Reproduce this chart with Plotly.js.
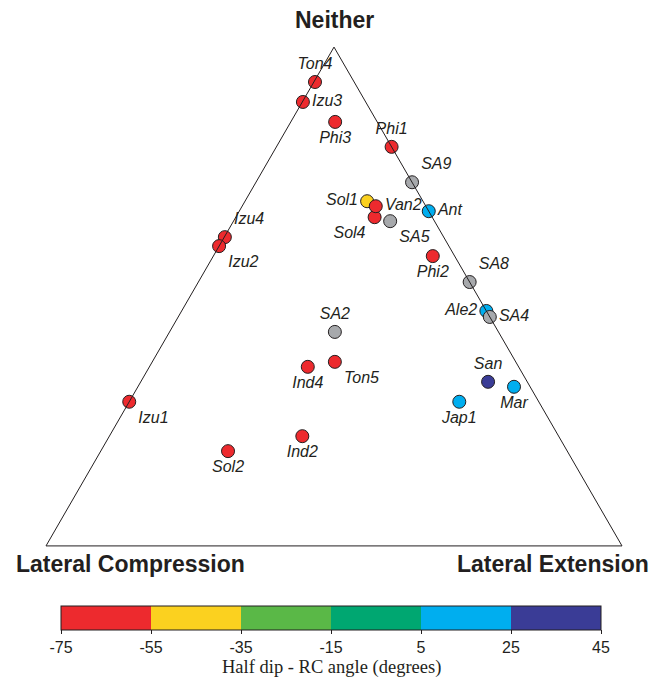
<!DOCTYPE html>
<html>
<head>
<meta charset="utf-8">
<script src="https://cdn.plot.ly/plotly-3.0.1.min.js"></script>
<style>html,body{margin:0;padding:0;background:#fff;}#chart{width:665px;height:679px;}</style>
</head>
<body>
<div id="chart"></div>
<script>
// Sites coloured by half dip - RC angle (degrees)
const colouredSites = ['Ton4','Izu3','Phi3','Phi1','Sol1','Sol4','Van2','Ant','Izu4','Izu2','Phi2','Ale2','Ton5','Ind4','San','Mar','Jap1','Izu1','Ind2','Sol2'];
const colouredNeither     = [0.930,0.890,0.850,0.800,0.691,0.659,0.681,0.671,0.619,0.601,0.581,0.471,0.369,0.359,0.329,0.319,0.289,0.289,0.220,0.190];
const colouredCompression = [0.068,0.109,0.073,0.000,0.097,0.100,0.087,0.000,0.380,0.399,0.038,0.000,0.314,0.366,0.068,0.028,0.138,0.711,0.445,0.589];
const colouredExtension   = [0.002,0.001,0.077,0.200,0.212,0.241,0.232,0.329,0.001,0.000,0.381,0.529,0.317,0.275,0.603,0.653,0.573,0.000,0.335,0.221];
const colouredAngle       = [-65,-65,-65,-65,-45,-65,-65,15,-65,-65,-65,15,-65,-65,35,15,15,-65,-65,-65];

// Sites without an angle (grey)
const greySites = ['SA9','SA5','SA8','SA4','SA2'];
const greyNeither     = [0.729,0.651,0.529,0.459,0.429];
const greyCompression = [0.000,0.077,0.000,0.000,0.284];
const greyExtension   = [0.271,0.272,0.471,0.541,0.287];

// Colour bar bins
const binEdges = [-75,-55,-35,-15,5,25,45];
const binColours = ['#ED2A2E','#FBD11F','#5AB847','#00A771','#00AEEF','#3A3C96'];

// Vertex labels
const vertexLabels = ['Neither','Lateral Compression','Lateral Extension'];
const colourBarTitle = 'Half dip - RC angle (degrees)';

// ---- styling / construction ----
const colouredTextPos = ['top center','middle right','bottom center','top center','middle left','bottom left','middle right','middle right','top right','bottom right','bottom center','middle left','bottom right','bottom center','top center','bottom center','bottom center','bottom right','bottom center','bottom center'];
const greyTextPos = ['top right','bottom right','top right','middle right','top center'];

const lo = binEdges[0], hi = binEdges[binEdges.length-1];
const colorscale = [];
binColours.forEach((col,i)=>{
  colorscale.push([(binEdges[i]-lo)/(hi-lo), col]);
  colorscale.push([(binEdges[i+1]-lo)/(hi-lo), col]);
});

const ink = '#231F20';
const labelFont = {family:'Liberation Sans, Arial, sans-serif', size:16, color:ink, style:'italic'};

// colour bar geometry (pixels)
const W = 665, H = 679;
const cbLeft = 61, cbWidth = 540, cbTop = 606, cbThick = 24;

const traceColoured = {
  type:'scatterternary', mode:'markers+text', cliponaxis:false,
  a: colouredNeither, b: colouredCompression, c: colouredExtension,
  text: colouredSites, textposition: colouredTextPos, textfont: labelFont,
  hoverinfo:'text',
  marker:{
    size:13, color: colouredAngle, cmin: lo, cmax: hi, colorscale: colorscale,
    line:{color:ink, width:1}, showscale:true,
    colorbar:{
      orientation:'h', x:(cbLeft+cbWidth/2)/W, xanchor:'center', len:cbWidth/W, lenmode:'fraction',
      y:1-cbTop/H, yanchor:'top', thickness:cbThick, thicknessmode:'pixels',
      xpad:0, ypad:0, outlinewidth:1, outlinecolor:ink,
      tickmode:'array', tickvals: binEdges, ticktext: binEdges.map(String),
      ticks:'outside', ticklen:4, tickwidth:1, tickcolor:ink,
      tickfont:{family:'Liberation Sans, Arial, sans-serif', size:16, color:ink},
      title:{text:''}
    }
  }
};

const traceGrey = {
  type:'scatterternary', mode:'markers+text', cliponaxis:false,
  a: greyNeither, b: greyCompression, c: greyExtension,
  text: greySites, textposition: greyTextPos, textfont: labelFont,
  hoverinfo:'text',
  marker:{size:13, color:'#A7A9AC', line:{color:ink, width:1}}
};

const axisStyle = {showgrid:false, showticklabels:false, ticks:'', showline:true, linecolor:ink, linewidth:1, title:{text:''}, min:0, layer:'above traces'};

const titleFont = {family:'Liberation Sans, Arial, sans-serif', size:23, color:ink, weight:'bold'};

// separators between colour bins, placed with the colour bar's own value-to-pixel mapping
const separators = binEdges.slice(1,-1).map(v=>{
  const xp = (cbLeft + (v-lo)/(hi-lo)*cbWidth)/W;
  return {type:'line', xref:'paper', yref:'paper', x0:xp, x1:xp, y0:1-(cbTop+cbThick)/H, y1:1-cbTop/H, line:{color:ink, width:1}, layer:'above'};
});

const layout = {
  width:W, height:H,
  margin:{l:0, r:0, t:0, b:0, autoexpand:false},
  paper_bgcolor:'#fff', plot_bgcolor:'#fff',
  showlegend:false,
  ternary:{
    sum:1,
    domain:{x:[46/W, 622/W], y:[1-546/H, 1-47/H]},
    bgcolor:'rgba(0,0,0,0)',
    aaxis: axisStyle, baxis: axisStyle, caxis: axisStyle
  },
  shapes: separators,
  annotations:[
    {text:'<b>'+vertexLabels[0]+'</b>', xref:'paper', yref:'paper', x:334/W, y:1-20/H, xanchor:'center', yanchor:'middle', showarrow:false, font:titleFont},
    {text:'<b>'+vertexLabels[1]+'</b>', xref:'paper', yref:'paper', x:130/W, y:1-564/H, xanchor:'center', yanchor:'middle', showarrow:false, font:titleFont},
    {text:'<b>'+vertexLabels[2]+'</b>', xref:'paper', yref:'paper', x:553/W, y:1-564/H, xanchor:'center', yanchor:'middle', showarrow:false, font:titleFont},
    {text: colourBarTitle, xref:'paper', yref:'paper', x:(cbLeft+cbWidth/2)/W, y:0, xanchor:'center', yanchor:'bottom', showarrow:false, borderpad:0,
     font:{family:'Liberation Serif, Times New Roman, serif', size:18.5, color:ink}}
  ]
};

Plotly.newPlot('chart', [traceColoured, traceGrey], layout, {displayModeBar:false, staticPlot:true});
</script>
</body>
</html>
